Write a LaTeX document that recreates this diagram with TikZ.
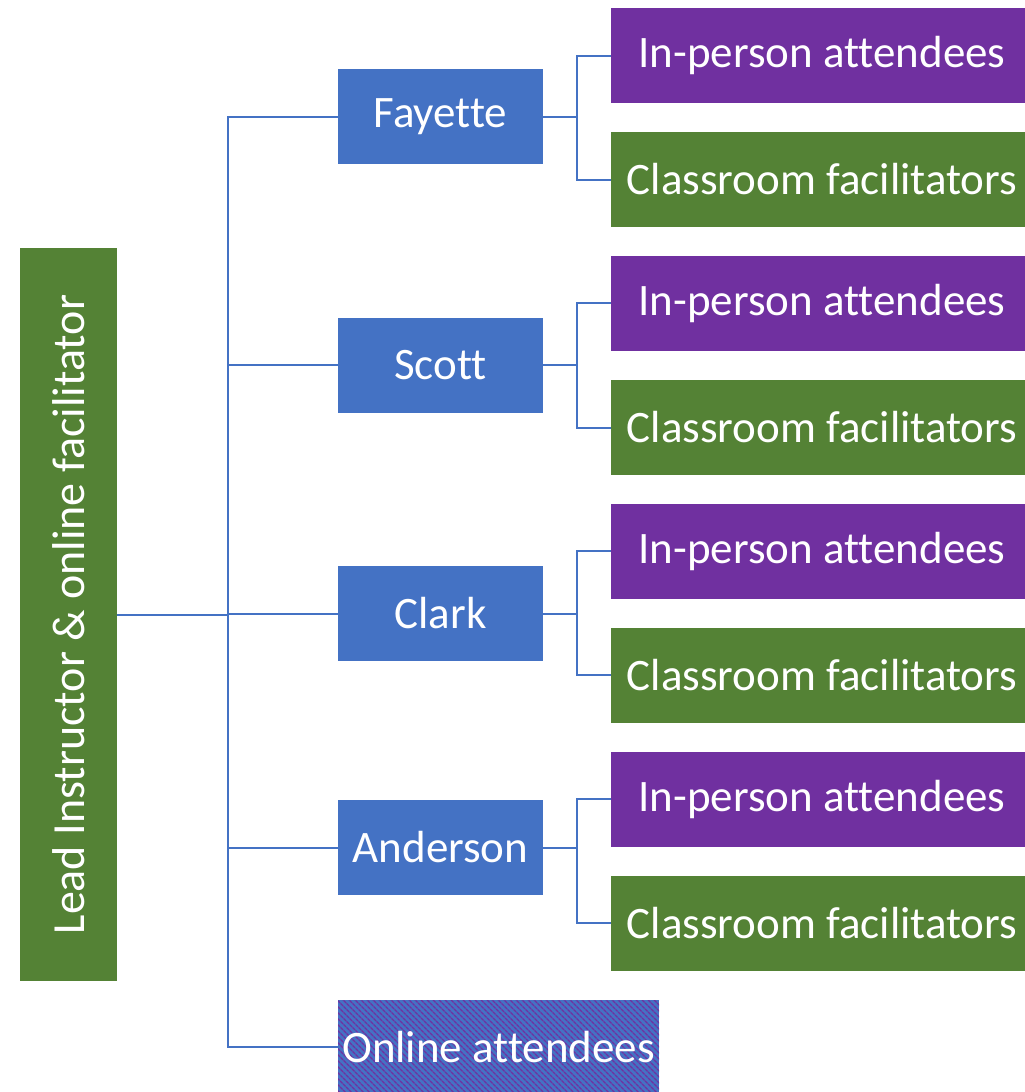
\documentclass[tikz,border=0pt]{standalone}
\usepackage{fontspec}
\setmainfont[Ligatures=NoCommon]{Carlito}
\usetikzlibrary{patterns.meta}
\definecolor{cgreen}{HTML}{548235}
\definecolor{cblue}{HTML}{4472C4}
\definecolor{cpurple}{HTML}{7030A0}
\begin{document}
\begin{tikzpicture}[x=1pt,y=-1pt,
 box/.style={draw=none, text=white, font=\fontsize{45}{52}\selectfont, inner sep=0pt, anchor=center},
 mid/.style={box, fill=cblue, minimum width=205pt, minimum height=95pt},
 inp/.style={box, fill=cpurple, minimum width=422pt, minimum height=95pt},
 cls/.style={box, fill=cgreen, minimum width=422pt, minimum height=95pt},
 conn/.style={draw=cblue, line width=2pt}]
\useasboundingbox (0,0) rectangle (1025,1092);
\clip (0,0) rectangle (1025,1092);
\node[box, fill=cgreen, rotate=90, minimum width=733pt, minimum height=97pt, font=\fontsize{46}{52}\selectfont] (lead) at (68.5,614.5) {Lead Instructor \& online facilitator};
\node[mid] (fay) at (440.5,116.5) {Fayette};
\node[mid] (sco) at (440.5,365) {Scott};
\node[mid] (cla) at (440.5,613.5) {Clark};
\node[mid] (and) at (440.5,847.5) {Anderson};
\node[box, fill=cblue, minimum width=321pt, minimum height=94pt,
  postaction={pattern={Lines[angle=-45,distance=4pt,line width=1.6pt]}, pattern color=cpurple}] (onl) at (498.5,1047) {};
\node[box] (onlt) at (onl.center) {Online attendees};
\node[inp] (ip1) at (822,55.5) {In-person attendees};
\node[cls] (cf1) at (822,179.5) {Classroom facilitators};
\node[inp] (ip2) at (822,303) {In-person attendees};
\node[cls] (cf2) at (822,427.5) {Classroom facilitators};
\node[inp] (ip3) at (822,551) {In-person attendees};
\node[cls] (cf3) at (822,675) {Classroom facilitators};
\node[inp] (ip4) at (822,799) {In-person attendees};
\node[cls] (cf4) at (822,923) {Classroom facilitators};
\coordinate (spT) at (228,116.5);
\coordinate (spB) at (228,1047);
\draw[conn] (fay.west) -- (spT) -- (spB) -- (onl.west);
\draw[conn] (lead.south) -- (lead.south -| spT);
\draw[conn] (sco.west) -- (sco.west -| spT);
\draw[conn] (cla.west) -- (cla.west -| spT);
\draw[conn] (and.west) -- (and.west -| spT);
\foreach \m/\a/\b in {fay/ip1/cf1, sco/ip2/cf2, cla/ip3/cf3, and/ip4/cf4}{
  \draw[conn] (\m.east) -- ++(34,0);
  \draw[conn] (\a.west) -- ++(-34,0) |- (\b.west);
}
\end{tikzpicture}
\end{document}
